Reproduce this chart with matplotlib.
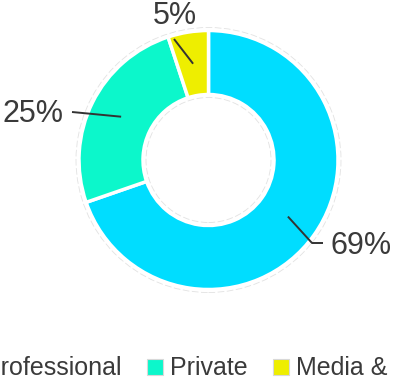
import matplotlib
matplotlib.use("Agg")
import matplotlib.pyplot as plt
from matplotlib.patches import Rectangle, Circle
import numpy as np

# Audience split by segment
categories = ["Professional", "Private", "Media & Entertainment"]
shares = [69, 25, 5]
share_labels = ["69%", "25%", "5%"]
colors = ["#00DDFF", "#0CF7CB", "#EEEE00"]

W, H = 395, 379
fig = plt.figure(figsize=(W / 100, H / 100), dpi=100)
ax = fig.add_axes([0, 0, 1, 1])

def py(y):
    # pixel row (from top) -> axis y (from bottom)
    return H - y

cx, cy = 208.5, py(160)
r_out, r_in = 129.5, 65.5

wedges, _ = ax.pie(
    shares, colors=colors, startangle=90, counterclock=False,
    radius=r_out, center=(cx, cy),
    wedgeprops=dict(width=r_out - r_in, edgecolor="white", linewidth=2.5),
)

# faint dashed guide rings
for rr in (132.5, 62.5):
    ax.add_patch(Circle((cx, cy), rr, fill=False, edgecolor="#e2e2e2",
                        linewidth=0.6, linestyle=(0, (8, 3)), zorder=0))

# leader lines: start in the middle of the ring at each wedge's mid angle
text_color = "#3a3a3a"
label_layout = [
    # (leader end, elbow end or None, text pos, ha)
    ((312, 243), (323, 243), (331, 246), "left"),
    ((72, 112), None, (63, 114), "right"),
    ((174, 39), None, (175, 16), "center"),
]
r_mid = (r_out + r_in) / 2
for w, lab, (end, elbow, tpos, ha) in zip(wedges, share_labels, label_layout):
    ang = np.deg2rad((w.theta1 + w.theta2) / 2)
    x0, y0 = cx + r_mid * np.cos(ang), cy + r_mid * np.sin(ang)
    xs = [x0, end[0]]
    ys = [y0, py(end[1])]
    if elbow is not None:
        xs.append(elbow[0])
        ys.append(py(elbow[1]))
    ax.plot(xs, ys, color="#333333", linewidth=1.4, solid_capstyle="butt")
    ax.text(tpos[0], py(tpos[1]), lab, ha=ha, va="center",
            fontsize=22, family="Liberation Sans", color=text_color)

ax.set_xlim(0, W)
ax.set_ylim(0, H)
ax.set_aspect("auto")
ax.axis("off")

# legend row along the bottom
fig.canvas.draw()
renderer = fig.canvas.get_renderer()
fs = 18
sq, pad, gap = 16, 7, 25
widths = []
for c in categories:
    t = ax.text(0, 0, c, fontsize=fs, family="Liberation Sans", color=text_color)
    bb = t.get_window_extent(renderer)
    widths.append(bb.width)
    t.remove()

x = 147 - (sq + pad + widths[0] + gap)
y_sq_top = 359
for c, col, wd in zip(categories, colors, widths):
    ax.add_patch(Rectangle((x, py(y_sq_top + sq)), sq, sq, facecolor=col,
                           edgecolor="#d8d8d8", linewidth=0.8, clip_on=False))
    ax.text(x + sq + pad, py(375), c, fontsize=fs, family="Liberation Sans",
            color=text_color, ha="left", va="baseline", clip_on=False)
    x += sq + pad + wd + gap

fig.savefig("out.png", dpi=100)
